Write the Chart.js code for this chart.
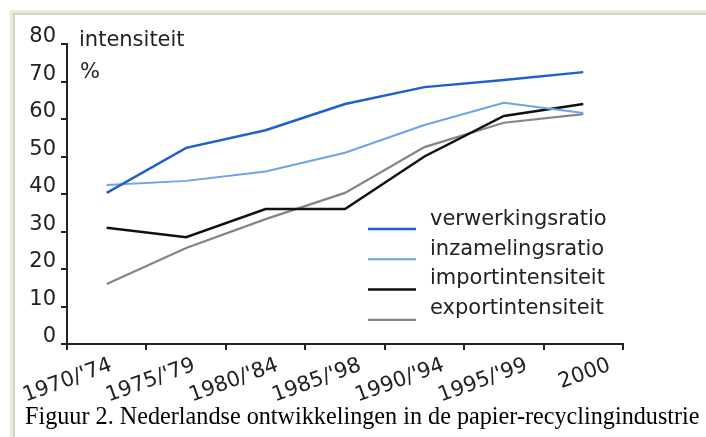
<!DOCTYPE html>
<html>
<head>
<meta charset="utf-8">
<script src="https://cdn.jsdelivr.net/npm/chart.js@4.4.1/dist/chart.umd.min.js"></script>
<style>
  html, body { margin: 0; padding: 0; background: #fff; }
  body { width: 706px; height: 437px; position: relative; overflow: hidden; }
  #frame {
    position: absolute; left: 10px; top: 10px; width: 720px; height: 440px;
    border-left: 3px solid #ece9d8; border-top: 3px solid #ece9d8;
    box-shadow: inset 2px 2px 0 #d6d2c2;
  }
  #wrap { position: absolute; left: 0; top: 0; width: 706px; height: 437px; }
  #caption {
    position: absolute; left: 25px; top: 404px;
    font-family: "Liberation Serif", "Times New Roman", serif;
    font-size: 24.2px; line-height: 24px; color: #000; white-space: nowrap;
  }
</style>
</head>
<body>
<div id="frame"></div>
<div id="wrap"><canvas id="myChart"></canvas></div>
<div id="caption">Figuur 2. Nederlandse ontwikkelingen in de papier-recyclingindustrie</div>
<script>
// categories and series
const periods = ["1970/'74", "1975/'79", "1980/'84", "1985/'98", "1990/'94", "1995/'99", "2000"];
const verwerking = [40.3, 52.3, 57, 64, 68.5, 70.4, 72.5];
const inzameling = [42.4, 43.5, 46, 51, 58.4, 64.3, 61.6];
const importInt = [31, 28.5, 36, 36, 50, 60.8, 64];
const exportInt = [16, 25.6, 33.3, 40.3, 52.5, 59, 61.3];
const yTicks = [0, 10, 20, 30, 40, 50, 60, 70, 80];

const font = "'DejaVu Sans', sans-serif";
const ink = '#222';

// points on an index axis
const pts = arr => arr.map((v, i) => ({ x: i, y: v }));
// tick marks sit between the periods
const bounds = periods.map((p, i) => i - 0.5).concat([periods.length - 0.5]);

// legend + unit label drawn inside the plot
const extras = {
  id: 'extras',
  afterDraw(chart) {
    const ctx = chart.ctx;
    ctx.save();
    ctx.font = '21px ' + font;
    ctx.fillStyle = ink;
    ctx.textBaseline = 'alphabetic';
    ctx.fillText('intensiteit', 79, 46);
    ctx.fillText('%', 80, 78);
    chart.data.datasets.forEach(function(ds, i) {
      const y = 229 + i * 30.3;
      ctx.strokeStyle = ds.borderColor;
      ctx.lineWidth = ds.borderWidth;
      ctx.beginPath();
      ctx.moveTo(368, y);
      ctx.lineTo(416, y);
      ctx.stroke();
      ctx.fillStyle = ink;
      ctx.fillText(ds.label, 430, 225 + i * 29.7);
    });
    ctx.restore();
  }
};

new Chart(document.getElementById('myChart'), {
  type: 'line',
  data: {
    datasets: [
      { label: 'verwerkingsratio', data: pts(verwerking), borderColor: '#1f5fd0', borderWidth: 2.5 },
      { label: 'inzamelingsratio', data: pts(inzameling), borderColor: '#70a2ea', borderWidth: 2 },
      { label: 'importintensiteit', data: pts(importInt), borderColor: '#111111', borderWidth: 2.5 },
      { label: 'exportintensiteit', data: pts(exportInt), borderColor: '#858585', borderWidth: 2.2 }
    ]
  },
  options: {
    responsive: true,
    maintainAspectRatio: false,
    animation: false,
    elements: { point: { radius: 0 }, line: { tension: 0 } },
    layout: { padding: { left: 0, top: 44, right: 83, bottom: 0 } },
    plugins: { legend: { display: false }, tooltip: { enabled: false } },
    scales: {
      x: {
        type: 'linear', position: 'bottom',
        min: -0.5, max: periods.length - 0.5,
        afterBuildTicks(scale) { scale.ticks = bounds.map(v => ({ value: v })); },
        grid: { display: true, drawOnChartArea: false, tickLength: 6, color: ink, lineWidth: 2 },
        border: { display: true, color: ink, width: 2 },
        ticks: { display: false },
        afterFit(scale) { scale.height = 6; }
      },
      // label axis: the period names are spaced a little wider than the data
      xl: {
        type: 'linear', position: 'bottom',
        min: -0.533, max: 6.16,
        afterBuildTicks(scale) { scale.ticks = periods.map((p, i) => ({ value: i })); },
        grid: { display: false, drawTicks: false },
        border: { display: false },
        ticks: {
          color: ink, font: { family: font, size: 21 },
          minRotation: 20, maxRotation: 20, autoSkip: false, padding: 3,
          callback: v => periods[v]
        },
        afterFit(scale) { scale.height = 87; }
      },
      y: {
        min: 0, max: 80,
        afterBuildTicks(scale) { scale.ticks = yTicks.map(v => ({ value: v })); },
        grid: { display: true, drawOnChartArea: false, tickLength: 6, color: ink, lineWidth: 2 },
        border: { display: true, color: ink, width: 2 },
        ticks: { color: ink, font: { family: font, size: 21 }, padding: 5, labelOffset: -7 },
        afterFit(scale) { scale.width = 67; }
      }
    }
  },
  plugins: [extras]
});
</script>
</body>
</html>
